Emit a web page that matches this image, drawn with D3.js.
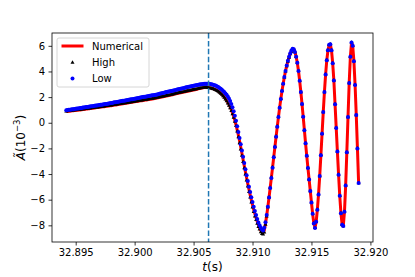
<!DOCTYPE html>
<html>
<head>
<meta charset="utf-8">
<title>A tilde vs t</title>
<script src="https://cdn.jsdelivr.net/npm/d3@7"></script>
<style>
	body { margin: 0; background: #ffffff; }
	svg text { font-family: "DejaVu Sans", sans-serif; fill: #000; }
</style>
</head>
<body>
<div id="chart"></div>
<script>

// samples are uniform in time: first sample and step (s)
var tStart = 32.8942, tStep = 0.0001;

// values in units of 1e-3, one per sample
var numerical = [
	0.87, 0.88, 0.89, 0.90, 0.92, 0.93, 0.94, 0.95, 0.96, 0.97,
	0.98, 0.99, 1.00, 1.01, 1.03, 1.04, 1.05, 1.07, 1.08, 1.09,
	1.10, 1.12, 1.13, 1.14, 1.15, 1.17, 1.18, 1.19, 1.20, 1.22,
	1.23, 1.24, 1.25, 1.27, 1.28, 1.29, 1.30, 1.32, 1.33, 1.35,
	1.36, 1.38, 1.39, 1.41, 1.42, 1.44, 1.45, 1.47, 1.48, 1.50,
	1.51, 1.53, 1.54, 1.56, 1.57, 1.59, 1.60, 1.62, 1.63, 1.65,
	1.66, 1.68, 1.69, 1.71, 1.72, 1.74, 1.75, 1.77, 1.78, 1.80,
	1.81, 1.83, 1.84, 1.86, 1.87, 1.89, 1.91, 1.93, 1.95, 1.97,
	1.99, 2.01, 2.03, 2.05, 2.07, 2.09, 2.11, 2.13, 2.15, 2.17,
	2.19, 2.21, 2.24, 2.26, 2.28, 2.30, 2.32, 2.34, 2.36, 2.38,
	2.40, 2.42, 2.44, 2.46, 2.48, 2.50, 2.52, 2.54, 2.56, 2.58,
	2.60, 2.62, 2.64, 2.66, 2.68, 2.70, 2.72, 2.74, 2.75, 2.75,
	2.75, 2.74, 2.72, 2.70, 2.68, 2.65, 2.61, 2.57, 2.52, 2.46,
	2.39, 2.31, 2.22, 2.12, 2.01, 1.89, 1.75, 1.60, 1.43, 1.24,
	1.02, 0.77, 0.50, 0.19, -0.16, -0.55, -0.97, -1.42, -1.89, -2.38,
	-2.87, -3.36, -3.84, -4.31, -4.77, -5.21, -5.63, -6.03, -6.41, -6.77,
	-7.11, -7.41, -7.70, -7.96, -8.20, -8.40, -8.52, -8.56, -8.38, -7.86,
	-7.25, -6.56, -5.83, -5.06, -4.28, -3.48, -2.68, -1.88, -1.08, -0.30,
	0.45, 1.18, 1.85, 2.48, 3.05, 3.56, 4.03, 4.44, 4.81, 5.12,
	5.40, 5.62, 5.76, 5.74, 5.52, 5.15, 4.68, 4.04, 3.27, 2.40,
	1.46, 0.46, -0.58, -1.60, -2.58, -3.52, -4.42, -5.32, -6.22, -7.10,
	-7.85, -8.20, -7.72, -6.78, -5.59, -4.15, -2.53, -0.85, 0.83, 2.40,
	3.77, 4.88, 5.65, 6.08, 6.12, 5.65, 4.65, 3.30, 1.45, -0.40,
	-2.25, -4.05, -5.70, -7.05, -7.95, -8.05, -6.95, -4.90, -2.30, 0.45,
	3.10, 5.15, 6.25, 6.00, 4.80, 2.95, 0.60, -2.00, -4.70
];

var high = [
	0.90, 0.91, 0.92, 0.93, 0.95, 0.96, 0.97, 0.98, 0.99, 1.00,
	1.01, 1.02, 1.03, 1.04, 1.06, 1.07, 1.08, 1.10, 1.11, 1.12,
	1.13, 1.15, 1.16, 1.17, 1.18, 1.20, 1.21, 1.22, 1.23, 1.25,
	1.26, 1.27, 1.28, 1.30, 1.31, 1.32, 1.33, 1.35, 1.36, 1.38,
	1.39, 1.41, 1.42, 1.44, 1.45, 1.47, 1.48, 1.50, 1.51, 1.53,
	1.54, 1.56, 1.57, 1.59, 1.60, 1.62, 1.63, 1.65, 1.66, 1.68,
	1.69, 1.71, 1.72, 1.74, 1.75, 1.77, 1.78, 1.80, 1.81, 1.83,
	1.84, 1.86, 1.87, 1.89, 1.90, 1.92, 1.94, 1.96, 1.98, 2.00,
	2.02, 2.04, 2.06, 2.08, 2.10, 2.12, 2.14, 2.16, 2.18, 2.20,
	2.22, 2.24, 2.27, 2.29, 2.31, 2.33, 2.35, 2.37, 2.39, 2.41,
	2.43, 2.45, 2.47, 2.49, 2.51, 2.53, 2.55, 2.57, 2.59, 2.61,
	2.63, 2.65, 2.67, 2.69, 2.71, 2.73, 2.75, 2.76, 2.76, 2.76,
	2.75, 2.73, 2.71, 2.68, 2.65, 2.62, 2.58, 2.54, 2.49, 2.43,
	2.36, 2.28, 2.19, 2.08, 1.96, 1.83, 1.68, 1.52, 1.34, 1.14,
	0.92, 0.67, 0.40, 0.10, -0.25, -0.67, -1.12, -1.59, -2.07, -2.56,
	-3.05, -3.54, -4.02, -4.49, -4.95, -5.39, -5.81, -6.21, -6.59, -6.95,
	-7.29, -7.58, -7.86, -8.11, -8.32, -8.52, -8.66, -8.70, -8.55, -7.95,
	-7.30, -6.58, -5.82, -5.05, -4.26, -3.45, -2.65, -1.85, -1.05, -0.28,
	0.47, 1.19, 1.86, 2.48, 3.04, 3.55, 4.01, 4.42, 4.78, 5.09,
	5.35, 5.55, 5.68, 5.70, 5.52, 5.15, 4.68, 4.04, 3.27, 2.40,
	1.46, 0.46, -0.58, -1.60, -2.58, -3.52, -4.42, -5.32, -6.22, -7.10,
	-7.85, -8.20, -7.72, -6.78, -5.59, -4.15, -2.53, -0.85, 0.83, 2.40,
	3.77, 4.88, 5.65, 6.08, 6.12, 5.65, 4.65, 3.30, 1.45, -0.40,
	-2.25, -4.05, -5.70, -7.05, -7.95, -8.05, -6.95, -4.90, -2.30, 0.45,
	3.10, 5.15, 6.25, 6.00, 4.80, 2.95, 0.60, -2.00, -4.70
];

var low = [
	0.98, 0.99, 1.01, 1.02, 1.04, 1.05, 1.06, 1.08, 1.09, 1.11,
	1.12, 1.13, 1.15, 1.16, 1.18, 1.19, 1.20, 1.22, 1.23, 1.25,
	1.26, 1.28, 1.29, 1.31, 1.32, 1.34, 1.35, 1.37, 1.38, 1.40,
	1.41, 1.43, 1.44, 1.46, 1.47, 1.49, 1.50, 1.52, 1.54, 1.55,
	1.57, 1.59, 1.60, 1.62, 1.64, 1.66, 1.67, 1.69, 1.71, 1.72,
	1.74, 1.76, 1.78, 1.79, 1.81, 1.83, 1.84, 1.86, 1.88, 1.90,
	1.91, 1.93, 1.95, 1.96, 1.98, 2.00, 2.02, 2.03, 2.05, 2.07,
	2.08, 2.10, 2.12, 2.14, 2.15, 2.17, 2.19, 2.21, 2.23, 2.26,
	2.28, 2.30, 2.32, 2.34, 2.37, 2.39, 2.41, 2.43, 2.45, 2.48,
	2.50, 2.52, 2.54, 2.56, 2.59, 2.61, 2.63, 2.65, 2.67, 2.70,
	2.72, 2.74, 2.76, 2.78, 2.80, 2.82, 2.84, 2.86, 2.88, 2.90,
	2.92, 2.94, 2.96, 2.98, 3.00, 3.01, 3.03, 3.04, 3.05, 3.05,
	3.05, 3.04, 3.02, 3.00, 2.98, 2.95, 2.92, 2.88, 2.83, 2.78,
	2.72, 2.65, 2.57, 2.48, 2.39, 2.29, 2.18, 2.05, 1.89, 1.70,
	1.47, 1.20, 0.89, 0.54, 0.15, -0.27, -0.72, -1.19, -1.67, -2.16,
	-2.65, -3.14, -3.62, -4.09, -4.55, -4.99, -5.41, -5.81, -6.19, -6.55,
	-6.89, -7.20, -7.50, -7.77, -8.00, -8.18, -8.32, -8.40, -8.18, -7.75,
	-7.20, -6.55, -5.83, -5.08, -4.30, -3.50, -2.70, -1.90, -1.10, -0.32,
	0.44, 1.17, 1.85, 2.48, 3.05, 3.57, 4.04, 4.46, 4.83, 5.15,
	5.42, 5.64, 5.78, 5.74, 5.52, 5.15, 4.68, 4.04, 3.27, 2.40,
	1.46, 0.46, -0.58, -1.60, -2.58, -3.52, -4.42, -5.32, -6.22, -7.10,
	-7.85, -8.20, -7.72, -6.78, -5.59, -4.15, -2.53, -0.85, 0.83, 2.40,
	3.77, 4.88, 5.65, 6.08, 6.12, 5.65, 4.65, 3.30, 1.45, -0.40,
	-2.25, -4.05, -5.70, -7.05, -7.95, -8.05, -6.95, -4.90, -2.30, 0.45,
	3.10, 5.15, 6.25, 6.00, 4.80, 2.95, 0.60, -2.00, -4.70
];

var xTicks = [32.895, 32.900, 32.905, 32.910, 32.915, 32.920];
var yTicks = [-8, -6, -4, -2, 0, 2, 4, 6];
var tMark = 32.90627;
var legendLabels = ["Numerical", "High", "Low"];

var times = d3.range(low.length).map(function(i) { return tStart + i * tStep; });

// set the dimensions and margins of the graph
var margin = {top: 33, right: 42, bottom: 35, left: 52},
	width = 415 - margin.left - margin.right,
	height = 277 - margin.top - margin.bottom;

var svg = d3.select("#chart")
	.append("svg")
		.attr("width", 415)
		.attr("height", 277)
	.append("g")
		.attr("transform", "translate(" + margin.left + "," + margin.top + ")");

var x = d3.scaleLinear()
	.domain([32.89299, 32.92022])
	.range([0, width]);

var y = d3.scaleLinear()
	.domain([-9.3, 7.0])
	.range([height, 0]);

// axes
var xAxis = svg.append("g")
	.attr("transform", "translate(0," + height + ")")
	.call(d3.axisBottom(x).tickValues(xTicks).tickFormat(d3.format(".3f")).tickSize(3.5).tickPadding(3.5));

var yAxis = svg.append("g")
	.call(d3.axisLeft(y).tickValues(yTicks).tickFormat(d3.format("d")).tickSize(3.5).tickPadding(3.5));

[xAxis, yAxis].forEach(function(a) {
	a.select(".domain").remove();
	a.selectAll("line").attr("stroke", "#000").attr("stroke-width", 0.8);
	a.selectAll("text").attr("font-size", "10px").attr("font-family", "DejaVu Sans");
});

// numerical curve
var line = d3.line()
	.x(function(d, i) { return x(times[i]); })
	.y(function(d) { return y(d); });

svg.append("path")
	.datum(numerical)
	.attr("fill", "none")
	.attr("stroke", "#ff0000")
	.attr("stroke-width", 3)
	.attr("stroke-linejoin", "round")
	.attr("d", line);

// high: black triangles
var tri = d3.symbol().type(d3.symbolTriangle).size(7);
svg.append("g").selectAll("path")
	.data(high)
	.enter()
	.append("path")
		.attr("d", tri)
		.attr("fill", "#000")
		.attr("transform", function(d, i) { return "translate(" + x(times[i]) + "," + y(d) + ")"; });

// low: blue dots
svg.append("g").selectAll("circle")
	.data(low)
	.enter()
	.append("circle")
		.attr("cx", function(d, i) { return x(times[i]); })
		.attr("cy", function(d) { return y(d); })
		.attr("r", 2)
		.attr("fill", "#0000ff");

// vertical marker
svg.append("line")
	.attr("x1", x(tMark)).attr("x2", x(tMark))
	.attr("y1", 0).attr("y2", height)
	.attr("stroke", "#1f77b4")
	.attr("stroke-width", 1.5)
	.attr("stroke-dasharray", "5.5,2.4");

// frame
svg.append("rect")
	.attr("width", width)
	.attr("height", height)
	.attr("fill", "none")
	.attr("stroke", "#000")
	.attr("stroke-width", 0.8);

// axis labels
var xl = svg.append("text")
	.attr("x", width / 2)
	.attr("y", height + 29)
	.attr("text-anchor", "middle")
	.attr("font-size", "12px");
xl.append("tspan").attr("font-style", "italic").text("t");
xl.append("tspan").text("(s)");

var yl = svg.append("text")
	.attr("transform", "translate(" + (-27) + "," + (height / 2) + ") rotate(-90)")
	.attr("text-anchor", "middle")
	.attr("font-size", "12px");
yl.append("tspan").attr("font-style", "italic").text("Ã");
yl.append("tspan").text("(10");
yl.append("tspan").attr("dy", -5).attr("font-size", "8.5px").text("−3");
yl.append("tspan").attr("dy", 5).text(")");

// legend
var lg = svg.append("g").attr("transform", "translate(5,5)");
lg.append("rect")
	.attr("width", 92).attr("height", 49)
	.attr("rx", 2)
	.attr("fill", "#fff").attr("fill-opacity", 0.8)
	.attr("stroke", "#cccccc").attr("stroke-width", 0.8);

lg.append("line")
	.attr("x1", 6).attr("x2", 25)
	.attr("y1", 8).attr("y2", 8)
	.attr("stroke", "#ff0000").attr("stroke-width", 3)
	.attr("stroke-linecap", "square");
lg.append("path")
	.attr("d", d3.symbol().type(d3.symbolTriangle).size(7))
	.attr("transform", "translate(15.5,24.5)")
	.attr("fill", "#000");
lg.append("circle")
	.attr("cx", 15.5).attr("cy", 40.5).attr("r", 2)
	.attr("fill", "#0000ff");

lg.selectAll("text.lab")
	.data(legendLabels)
	.enter()
	.append("text")
		.attr("class", "lab")
		.attr("x", 35)
		.attr("y", function(d, i) { return 8 + i * 16.3; })
		.attr("dy", "0.35em")
		.attr("font-size", "10px")
		.text(function(d) { return d; });

</script>
</body>
</html>
